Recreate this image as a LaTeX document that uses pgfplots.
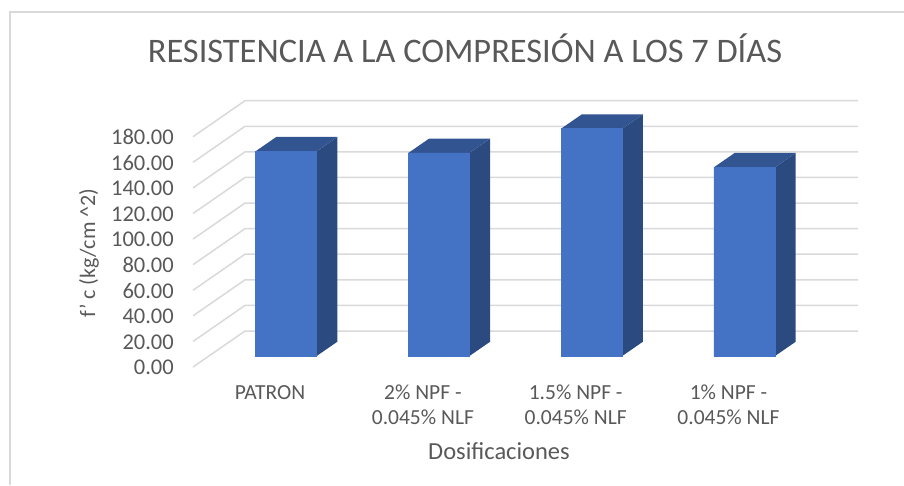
\documentclass[border=0pt]{standalone}
\usepackage{pgfplots}
\pgfplotsset{compat=1.18}
\usepackage{fontspec}
\setmainfont{Carlito}
\definecolor{txt}{HTML}{595959}
\definecolor{gridc}{HTML}{D9D9D9}
\definecolor{front}{HTML}{4472C4}
\definecolor{side}{HTML}{2B4A80}
\definecolor{topc}{HTML}{325592}
\begin{document}
\begin{tikzpicture}
\path[use as bounding box] (0pt,-485pt) rectangle (904pt,0pt);
\draw[gridc,line width=1.6pt] (10pt,-485pt) -- (10pt,-12pt) -- (904pt,-12pt);
\begin{axis}[
  at={(179pt,-356pt)}, anchor=south west,
  scale only axis, width=679pt, height=230.3pt,
  xmin=-0.7009, xmax=3.743, ymin=0, ymax=180,
  clip=false,
  axis line style={draw=none},
  major tick length=0pt,
  xtick={0,1,2,3},
  xticklabels={PATRON,2\% NPF -\\0.045\% NLF,1.5\% NPF -\\0.045\% NLF,1\% NPF -\\0.045\% NLF},
  xticklabel style={align=center,font=\fontsize{21.5}{25}\selectfont,text=txt,inner sep=0pt,xshift=-16pt,yshift=-29pt},
  ytick={0,20,...,180},
  yticklabel style={font=\fontsize{22.5}{24}\selectfont,text=txt,inner sep=0pt,xshift=-5pt,yshift=-11.5pt,
    /pgf/number format/fixed,/pgf/number format/fixed zerofill,/pgf/number format/precision=2,
    /pgf/number format/1000 sep={},/pgf/number format/assume math mode=true},
  title={RESISTENCIA A LA COMPRESIÓN A LOS 7 DÍAS},
  title style={at={(axis description cs:0.4212,1.31)},anchor=center,font=\fontsize{34.4}{38}\selectfont,text=txt,inner sep=0pt},
  xlabel={Dosificaciones},
  xlabel style={at={(axis description cs:0.4713,-0.4125)},anchor=center,font=\fontsize{24.5}{26}\selectfont,text=txt,inner sep=0pt},
  ylabel={f' c (kg/cm \textasciicircum2)},
  ylabel style={at={(axis description cs:-0.1325,0.447)},anchor=center,font=\fontsize{22}{24}\selectfont,text=txt,inner sep=0pt},
]
% floor-and-wall gridlines, one per value
\addplot[gridc,line width=1.5pt] coordinates {(-0.609,-8.6) (-0.269,19.54) (3.743,19.54)};
\addplot[gridc,line width=1.5pt] coordinates {(-0.609,11.4) (-0.269,39.54) (3.743,39.54)};
\addplot[gridc,line width=1.5pt] coordinates {(-0.609,31.4) (-0.269,59.54) (3.743,59.54)};
\addplot[gridc,line width=1.5pt] coordinates {(-0.609,51.4) (-0.269,79.54) (3.743,79.54)};
\addplot[gridc,line width=1.5pt] coordinates {(-0.609,71.4) (-0.269,99.54) (3.743,99.54)};
\addplot[gridc,line width=1.5pt] coordinates {(-0.609,91.4) (-0.269,119.54) (3.743,119.54)};
\addplot[gridc,line width=1.5pt] coordinates {(-0.609,111.4) (-0.269,139.54) (3.743,139.54)};
\addplot[gridc,line width=1.5pt] coordinates {(-0.609,131.4) (-0.269,159.54) (3.743,159.54)};
\addplot[gridc,line width=1.5pt] coordinates {(-0.609,151.4) (-0.269,179.54) (3.743,179.54)};
\addplot[gridc,line width=1.5pt] coordinates {(-0.609,171.4) (-0.269,199.54) (3.743,199.54)};
% side faces
\addplot[fill=side,draw=none] coordinates {(0.2,0) (0.2,160) (0.3355,171.18) (0.3355,11.18)} --cycle;
\addplot[fill=side,draw=none] coordinates {(1.2,0) (1.2,158.7) (1.3355,169.88) (1.3355,11.18)} --cycle;
\addplot[fill=side,draw=none] coordinates {(2.2,0) (2.2,177.7) (2.3355,188.88) (2.3355,11.18)} --cycle;
\addplot[fill=side,draw=none] coordinates {(3.2,0) (3.2,147.5) (3.3355,158.68) (3.3355,11.18)} --cycle;
% top faces
\addplot[fill=topc,draw=none] coordinates {(-0.2,160) (0.2,160) (0.3355,171.18) (-0.0645,171.18)} --cycle;
\addplot[fill=topc,draw=none] coordinates {(0.8,158.7) (1.2,158.7) (1.3355,169.88) (0.9355,169.88)} --cycle;
\addplot[fill=topc,draw=none] coordinates {(1.8,177.7) (2.2,177.7) (2.3355,188.88) (1.9355,188.88)} --cycle;
\addplot[fill=topc,draw=none] coordinates {(2.8,147.5) (3.2,147.5) (3.3355,158.68) (2.9355,158.68)} --cycle;
% front faces
\addplot[ybar,bar width=0.4,fill=front,draw=front,line width=0.5pt] coordinates {(0,160) (1,158.7) (2,177.7) (3,147.5)};
\end{axis}
\end{tikzpicture}
\end{document}
